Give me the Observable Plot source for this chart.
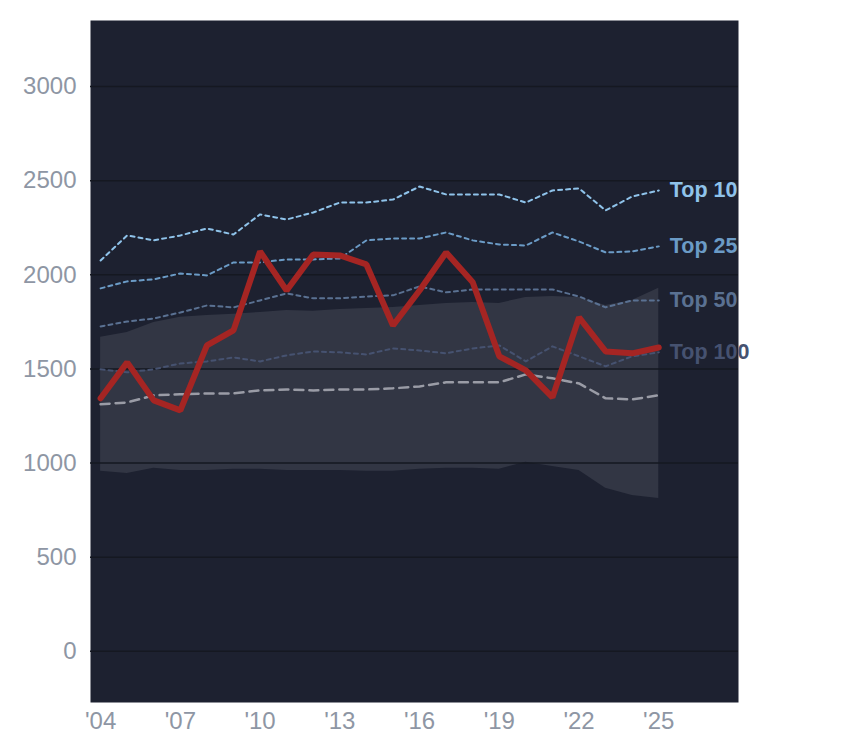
<!DOCTYPE html>
<html><head><meta charset="utf-8">
<script src="https://cdn.jsdelivr.net/npm/d3@7"></script>
<script src="https://cdn.jsdelivr.net/npm/@observablehq/plot@0.6"></script>
<style>body{margin:0;background:#fff;font-family:"Liberation Sans",Arial,sans-serif}</style>
</head><body><div id="chart"></div>
<script>
const years = d3.range(2004, 2026);
const red = [1344,1535,1333,1280,1625,1705,2124,1917,2108,2103,2055,1731,1917,2119,1960,1567,1492,1349,1774,1593,1583,1614];
const top10 = [2076,2209,2183,2209,2246,2214,2321,2294,2331,2384,2384,2400,2469,2427,2427,2427,2384,2448,2459,2342,2416,2448];
const top25 = [1928,1965,1976,2007,1997,2066,2066,2082,2082,2087,2183,2193,2193,2225,2183,2161,2156,2225,2177,2119,2124,2151];
const top50 = [1726,1752,1768,1800,1837,1827,1864,1901,1875,1875,1885,1891,1938,1907,1922,1922,1922,1922,1885,1827,1864,1864];
const top100 = [1498,1482,1498,1529,1540,1561,1540,1572,1593,1588,1577,1609,1598,1583,1609,1625,1540,1620,1567,1514,1567,1588];
const median = [1312,1322,1360,1365,1370,1370,1386,1391,1386,1391,1391,1397,1407,1429,1429,1429,1471,1450,1423,1344,1338,1360];
const bandHi = [1668,1694,1747,1774,1784,1790,1800,1811,1806,1816,1821,1827,1837,1848,1853,1848,1880,1885,1880,1837,1864,1928];
const bandLo = [956,945,972,961,961,967,967,961,961,961,956,956,967,972,972,967,1004,982,961,866,828,812];
const yTicks = [0,500,1000,1500,2000,2500,3000];
const xTicks = [2004,2007,2010,2013,2016,2019,2022,2025];
const tops = [
  {name:"Top 10", v:top10, color:"#8fc3ea"},
  {name:"Top 25", v:top25, color:"#6b9bc6"},
  {name:"Top 50", v:top50, color:"#5a7192"},
  {name:"Top 100", v:top100, color:"#465270"}
];
const band = years.map((y,i)=>({y, lo:bandLo[i], hi:bandHi[i]}));
const rows = v => years.map((y,i)=>({y, v:v[i]}));
const marks = [
  Plot.frame({fill:"#1d2130", stroke:null}),
  Plot.areaY(band, {x:"y", y1:"lo", y2:"hi", fill:"#323644"}),
  Plot.gridY(yTicks, {stroke:"#151821", strokeOpacity:1, strokeWidth:1.5}),
];
for (const t of tops) {
  marks.push(Plot.lineY(rows(t.v), {x:"y", y:"v", stroke:t.color, strokeWidth:2, strokeDasharray:"4,4"}));
}
marks.push(Plot.lineY(rows(median), {x:"y", y:"v", stroke:"#9a9ca6", strokeWidth:2.5, strokeDasharray:"9,6"}));
marks.push(Plot.lineY(rows(red), {x:"y", y:"v", stroke:"#a52523", strokeWidth:6, strokeLinejoin:"miter"}));
for (const t of tops) {
  marks.push(Plot.text([{y:2025, v:t.v[t.v.length-1]}], {x:"y", y:"v", text:()=>t.name, dx:11, textAnchor:"start", fill:t.color, fontSize:21.5, fontWeight:"bold"}));
}
marks.push(Plot.axisY(yTicks, {tickSize:0, tickPadding:14, fontSize:24, fill:"#8e96a4", label:null, tickFormat:d=>String(d)}));
marks.push(Plot.axisX(xTicks, {tickSize:0, tickPadding:9, fontSize:24, fill:"#8e96a4", label:null, tickFormat:d=>"'"+String(d%100).padStart(2,"0")}));
const chart = Plot.plot({
  width:844, height:748,
  marginLeft:90, marginRight:106, marginTop:20, marginBottom:46,
  style:{fontFamily:"Liberation Sans, Arial, sans-serif", background:"#fff", overflow:"visible"},
  x:{domain:[2003.62, 2028.0]},
  y:{domain:[-272, 3351]},
  marks
});
document.getElementById("chart").appendChild(chart);
</script></body></html>
